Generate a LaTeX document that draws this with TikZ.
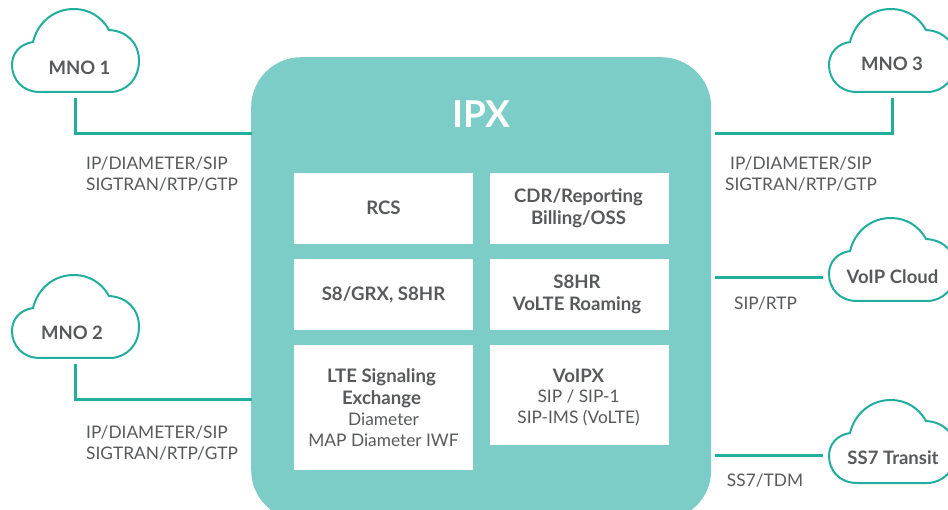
\documentclass[tikz,border=0pt]{standalone}
\usepackage{fontspec}
\setmainfont{Lato}
\definecolor{ipxfill}{HTML}{7CCCC8}
\definecolor{linec}{HTML}{22AE9F}
\definecolor{txt}{HTML}{58595B}
\tikzset{
  conn/.style={draw=linec,line width=3pt},
  cloudtext/.style={inner sep=0pt,text=txt,font=\fontsize{18.5}{22}\selectfont\bfseries},
  whitebox/.style={fill=white,minimum width=179pt,inner sep=0pt,align=center,anchor=north west,text=txt,font=\fontsize{18.6}{22}\selectfont},
  proto/.style={text=txt,font=\fontsize{17.3}{21}\selectfont,inner sep=0pt},
  cloudline/.style={draw=linec,line width=2pt,fill=white},
  boxtext/.style={inner sep=0pt,align=center,text=txt,font=\fontsize{18.6}{22}\selectfont\bfseries},
  boxsub/.style={inner sep=0pt,align=center,text=txt,font=\fontsize{17.3}{21}\selectfont}
}
\newcommand{\cloudat}[2]{%
  \draw[cloudline,shift={(#1,#2)}] (28,83)
    .. controls (10,83) and (0,70) .. (0,56)
    .. controls (0,44) and (8,35) .. (21,33)
    .. controls (26,13) and (42,0) .. (62,0)
    .. controls (77,0) and (90,8) .. (97,21)
    .. controls (115,22) and (127,34) .. (127,52)
    .. controls (127,70) and (114,83) .. (98,83) -- cycle;}
\begin{document}
\begin{tikzpicture}[x=1pt,y=-1pt]
\useasboundingbox (0,0) rectangle (948,510);
\begin{scope}
\clip (0,0) rectangle (948,510);
\node[fill=ipxfill,rounded corners=50pt,minimum width=460pt,minimum height=463pt,inner sep=0pt,anchor=north west] (ipx) at (251,57) {};
\cloudat{12}{9}
\cloudat{12}{275}
\cloudat{829}{9}
\cloudat{829}{218}
\cloudat{829}{400}
\end{scope}
\node[text=white,font=\fontsize{37}{40}\selectfont\bfseries,inner sep=0pt] (title) at (481.5,114) {IPX};

\node[cloudtext] (mno1) at (79.5,67.5) {MNO 1};
\node[cloudtext] (mno2) at (72,332.5) {MNO 2};
\node[cloudtext] (mno3) at (892,64) {MNO 3};
\node[cloudtext] (voip) at (892.5,276.5) {VoIP Cloud};
\node[cloudtext] (ss7) at (893,458) {SS7 Transit};

\node[whitebox,minimum height=71pt] (rcs) at (294,173) {};
\node[whitebox,minimum height=71pt] (cdr) at (490,173) {};
\node[whitebox,minimum height=71pt] (s8) at (294,259) {};
\node[whitebox,minimum height=71pt] (s8hr) at (490,259) {};
\node[whitebox,minimum height=125pt] (lte) at (294,345) {};
\node[whitebox,minimum height=100pt] (volpx) at (490,345) {};
\node[boxtext] (t1) at (383.5,208) {RCS};
\node[boxtext] (t2) at (578.5,208.5) {CDR/Reporting\\Billing/OSS};
\node[boxtext] (t3) at (383.5,295) {S8/GRX, S8HR};
\node[boxtext] (t4) at (577,294.5) {S8HR\\VoLTE Roaming};
\node[boxtext] (t5) at (381.5,388) {LTE Signaling\\Exchange};
\node[boxsub] (t6) at (383.5,429.5) {Diameter\\MAP Diameter IWF};
\node[boxtext] (t7) at (578.5,376) {VoIPX};
\node[boxsub] (t8) at (578.5,407.5) {SIP / SIP-1\\SIP-IMS (VoLTE)};

\node[proto,align=left,anchor=west] (l1) at (86,174) {IP/DIAMETER/SIP\\SIGTRAN/RTP/GTP};
\node[proto,align=left,anchor=west] (l2) at (86,443) {IP/DIAMETER/SIP\\SIGTRAN/RTP/GTP};
\node[proto,align=center] (l3) at (801,174) {IP/DIAMETER/SIP\\SIGTRAN/RTP/GTP};
\node[proto] (l4) at (765.5,304) {SIP/RTP};
\node[proto] (l5) at (765,481) {SS7/TDM};

\coordinate (m1s) at (75,98);
\coordinate (m1t) at (75,134);
\coordinate (m1e) at (252,134);
\coordinate (m2s) at (75,364);
\coordinate (m2t) at (75,400);
\coordinate (m2e) at (252,400);
\coordinate (m3s) at (892,98);
\coordinate (m3t) at (892,134);
\coordinate (m3e) at (715,134);
\coordinate (v1) at (715,278);
\coordinate (v2) at (823,278);
\coordinate (s1) at (715,455);
\coordinate (s2) at (823,455);
\draw[conn] (m1s) -- (m1t) -- (m1e);
\draw[conn] (m2s) -- (m2t) -- (m2e);
\draw[conn] (m3s) -- (m3t) -- (m3e);
\draw[conn] (v1) -- (v2);
\draw[conn] (s1) -- (s2);
\end{tikzpicture}
\end{document}
